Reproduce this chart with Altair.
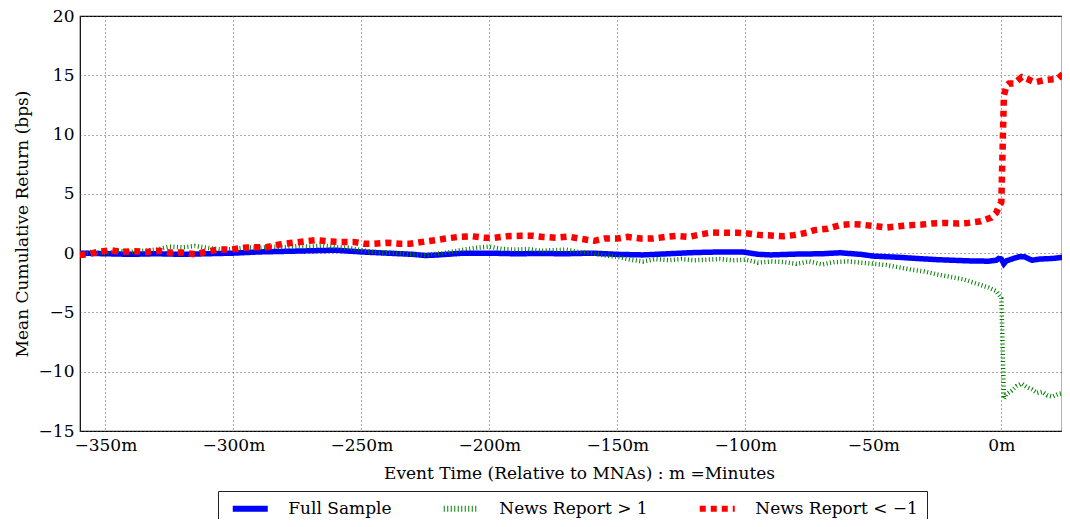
import altair as alt
import pandas as pd

# ---- data (minutes relative to MNA, bps) ----
full_min = [-360, -350, -340, -330, -320, -310, -300, -290, -280, -270, -260, -250, -240,
            -230, -225, -220, -210, -200, -190, -180, -170, -160, -150, -140, -130, -120,
            -110, -101, -95, -90, -80, -70, -63, -55, -50, -40, -33, -25, -13, -5, -2, -1,
            0, 1, 2, 4, 7, 9, 12, 15, 20, 24, 27]
full_val = [0.0, -0.05, -0.1, -0.05, -0.1, -0.05, 0.0, 0.1, 0.15, 0.2, 0.25, 0.1, 0.0,
            -0.1, -0.2, -0.15, 0.0, 0.0, -0.05, -0.03, -0.05, 0.0, -0.1, -0.15, -0.05, 0.05,
            0.1, 0.1, -0.1, -0.15, -0.08, -0.05, 0.03, -0.1, -0.25, -0.35, -0.45, -0.55, -0.65,
            -0.68, -0.6, -0.45, -0.5, -0.9, -0.65, -0.5, -0.3, -0.3, -0.6, -0.5, -0.45, -0.35, -0.3]

pos_min = [-360, -355, -350, -345, -340, -335, -330, -325, -320, -315, -310, -305, -300,
           -295, -290, -285, -280, -275, -270, -265, -260, -255, -250, -245, -240, -235,
           -230, -225, -220, -215, -210, -205, -200, -195, -190, -185, -180, -175, -170,
           -165, -160, -155, -150, -145, -140, -135, -130, -125, -120, -115, -110, -105,
           -100, -95, -90, -85, -80, -75, -70, -65, -60, -55, -50, -45, -40, -35, -30, -25,
           -20, -15, -10, -5, -2, -1, 0, 1, 2, 4, 6, 8, 10, 12, 14, 16, 18, 20, 22, 24, 27]
pos_val = [0.0, 0.1, 0.0, 0.2, 0.1, 0.2, 0.3, 0.55, 0.5, 0.6, 0.45, 0.3, 0.35,
           0.5, 0.45, 0.55, 0.5, 0.6, 0.55, 0.65, 0.5, 0.45, 0.25, 0.1, 0.05, 0.0,
           -0.1, -0.15, -0.05, 0.1, 0.3, 0.45, 0.55, 0.35, 0.3, 0.35, 0.2, 0.25, 0.3,
           0.1, 0.0, -0.2, -0.3, -0.55, -0.7, -0.5, -0.6, -0.5, -0.6, -0.55, -0.5, -0.6,
           -0.55, -0.8, -0.7, -0.75, -0.9, -0.7, -0.95, -0.75, -0.7, -0.8, -0.9, -1.0, -1.2,
           -1.4, -1.55, -1.8, -2.0, -2.2, -2.55, -2.9, -3.2, -3.5, -3.8, -12.3, -11.9, -11.6,
           -11.2, -11.0, -11.3, -11.5, -11.8, -11.7, -12.0, -12.1, -11.9, -11.8, -11.5]

neg_min = [-360, -357, -353, -348, -344, -339, -334, -329, -325, -320, -315, -311, -306,
           -301, -296, -291, -287, -282, -277, -272, -268, -263, -258, -253, -249, -245,
           -240, -235, -231, -226, -221, -217, -212, -207, -202, -198, -193, -188, -183,
           -179, -174, -169, -165, -159, -155, -150, -146, -141, -136, -131, -127, -122,
           -117, -113, -108, -103, -99, -94, -90, -85, -81, -76, -73, -68, -63, -59, -55,
           -49, -45, -40, -36, -31, -27, -22, -17, -13, -8, -4, -2, -1, 0, 1, 2, 3, 5, 8,
           10, 13, 17, 22, 25, 27]
neg_val = [-0.15, -0.1, 0.1, 0.25, 0.1, 0.17, 0.1, 0.2, 0.05, 0.05, -0.1, 0.1, 0.3,
           0.3, 0.45, 0.5, 0.5, 0.73, 0.87, 1.0, 1.1, 1.0, 0.95, 0.95, 0.8, 0.8,
           0.87, 0.8, 0.8, 0.95, 1.1, 1.23, 1.37, 1.43, 1.3, 1.3, 1.43, 1.46, 1.46,
           1.37, 1.3, 1.4, 1.23, 1.04, 1.23, 1.23, 1.37, 1.23, 1.23, 1.37, 1.46, 1.37,
           1.6, 1.74, 1.71, 1.71, 1.66, 1.52, 1.49, 1.43, 1.52, 1.72, 1.94, 2.05, 2.36, 2.44, 2.41,
           2.27, 2.16, 2.27, 2.36, 2.41, 2.5, 2.55, 2.5, 2.55, 2.69, 3.0, 3.4, 3.9, 4.3, 13.3,
           14.1, 14.3, 14.3, 14.85, 14.7, 14.4, 14.6, 14.7, 15.3, 15.7]

series_names = ["Full Sample", "News Report > 1", "News Report < \u22121"]
series_colors = ["#0000ff", "#008000", "#ff0000"]
series_dash = [[1, 0], [1, 2.5], [6, 5]]
series_width = [5.5, 4.5, 6.5]

x_ticks = [-350, -300, -250, -200, -150, -100, -50, 0]
y_ticks = [-15, -10, -5, 0, 5, 10, 15, 20]

rows = []
for name, mins, vals in zip(series_names, [full_min, pos_min, neg_min],
                            [full_val, pos_val, neg_val]):
    for m, v in zip(mins, vals):
        rows.append({"series": name, "minute": m, "value": v})
df = pd.DataFrame(rows)

FONT = "DejaVu Serif"

legend = alt.Legend(
    title=None, orient="none", legendX=138, legendY=475, direction="horizontal",
    columns=3, symbolType="M-3.5,0L3.5,0", symbolSize=100, symbolOffset=14.75,
    symbolStrokeWidth=6, labelOffset=29.5, columnPadding=39,
    padding=9, strokeColor="#222222", labelFont=FONT, labelFontSize=17,
    labelColor="black", labelLimit=400,
)

enc = dict(
    x=alt.X("minute:Q",
            scale=alt.Scale(domain=[-359.9, 23.7], nice=False, zero=False),
            axis=alt.Axis(values=x_ticks,
                          labelExpr="datum.value < 0 ? '\u2212' + abs(datum.value) + 'm' : datum.value + 'm'",
                          title="Event Time (Relative to MNAs) : m =Minutes",
                          titleX=499, titleY=47, titleBaseline="alphabetic",
                          labelPadding=6)),
    y=alt.Y("value:Q",
            scale=alt.Scale(domain=[-15, 20], nice=False, zero=False),
            axis=alt.Axis(values=y_ticks,
                          labelExpr="datum.value < 0 ? '\u2212' + abs(datum.value) : '' + datum.value",
                          title="Mean Cumulative Return (bps)",
                          titleX=-53, titleY=207.5, titleAngle=-90,
                          titleBaseline="alphabetic", labelPadding=6)),
    color=alt.Color("series:N", scale=alt.Scale(domain=series_names, range=series_colors),
                    legend=legend),
    strokeDash=alt.StrokeDash("series:N", scale=alt.Scale(domain=series_names, range=series_dash),
                              legend=legend),
)

base = alt.Chart(df)
layers = [
    base.transform_filter(alt.datum.series == name)
        .mark_line(clip=True, strokeCap="butt", strokeWidth=w)
        .encode(**enc)
    for name, w in zip(series_names, series_width)
]

chart = alt.layer(*layers).properties(
    width=982, height=415,
    autosize=alt.AutoSizeParams(type="none"),
    padding={"left": 72, "top": 8, "right": 0, "bottom": 88},
).configure_view(
    stroke="black", strokeWidth=1.2
).configure_axis(
    domain=False, ticks=False, grid=True, gridColor="#555555", gridDash=[1, 3],
    gridWidth=1, labelFont=FONT, labelFontSize=17, labelColor="black",
    titleFont=FONT, titleFontSize=17, titleFontWeight="normal", titleColor="black",
)

chart.save("out.html", embed_options={"renderer": "svg", "actions": False})
